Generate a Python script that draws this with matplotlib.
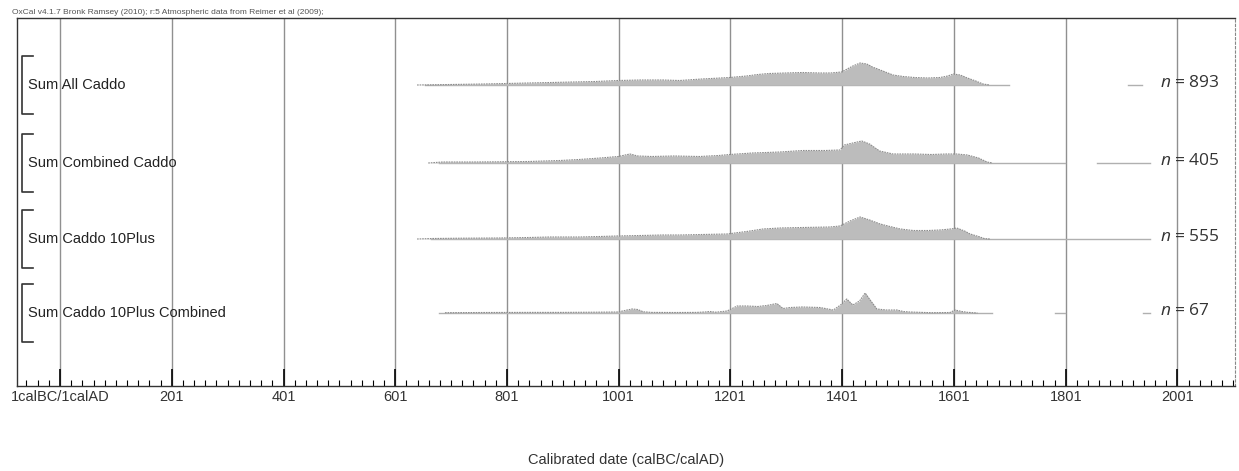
import numpy as np
import matplotlib.pyplot as plt
from matplotlib.ticker import FixedLocator

plt.rcParams['font.family'] = ['Liberation Sans', 'DejaVu Sans']
plt.rcParams['mathtext.fontset'] = 'custom'
plt.rcParams['mathtext.it'] = 'Open Sans:italic'
plt.rcParams['mathtext.rm'] = 'Open Sans'

# summed probability curves (year calAD, relative height)
names = ["Sum All Caddo", "Sum Combined Caddo", "Sum Caddo 10Plus", "Sum Caddo 10Plus Combined"]
counts = [893, 405, 555, 67]

all_yr = [640, 700, 760, 800, 840, 880, 920, 960, 1000, 1040, 1080, 1110, 1150, 1200, 1230, 1250,
          1270, 1300, 1330, 1360, 1380, 1400, 1410, 1420, 1433, 1445, 1455, 1469, 1492, 1510, 1530,
          1555, 1576, 1590, 1600, 1612, 1625, 1640, 1653, 1665]
all_h = [0, 0.5, 1, 1.5, 2, 2.5, 3, 3.5, 4.5, 5, 5, 4.5, 6, 7.5, 9, 10.5,
         11.5, 12, 12.5, 12, 12, 13, 16, 19, 22, 21, 18, 15, 10, 8.5, 7.5,
         7, 7.5, 9, 11, 10, 7, 4, 1, 0]

comb_yr = [660, 686, 740, 788, 840, 896, 930, 968, 1000, 1021, 1035, 1060, 1100, 1146, 1180, 1200,
           1240, 1290, 1330, 1370, 1397, 1405, 1420, 1436, 1450, 1460, 1468, 1492, 1530, 1560, 1588,
           1606, 1625, 1645, 1660, 1670]
comb_h = [0, 1, 1, 1.2, 1.5, 2.5, 3.5, 5, 6.5, 9, 7, 6.5, 7, 6.5, 7.5, 8.5,
          10, 11, 12.5, 12.5, 13, 18, 20, 22, 19, 15, 12, 9, 9, 8.5, 9,
          9, 8, 5, 1, 0]

plus_yr = [640, 668, 720, 788, 840, 878, 930, 968, 998, 1040, 1080, 1111, 1150, 1195, 1230, 1259,
           1290, 1330, 1379, 1397, 1415, 1433, 1450, 1469, 1490, 1505, 1528, 1555, 1576, 1595, 1606,
           1620, 1630, 1645, 1655, 1665]
plus_h = [0, 0.5, 0.8, 1, 1.5, 2, 2, 2.5, 3, 3.5, 4, 4, 4.5, 5, 7.5, 10,
          11, 11.5, 12, 13, 18, 22, 19, 15, 12, 10, 8.5, 8.5, 9, 10, 11,
          8, 5, 2.5, 0.5, 0]

pcomb_yr = [690, 760, 840, 900, 960, 1000, 1012, 1025, 1035, 1045, 1060, 1100, 1140, 1155, 1164, 1175,
            1195, 1213, 1230, 1250, 1266, 1284, 1295, 1308, 1330, 1361, 1385, 1398, 1409, 1420, 1432,
            1442, 1451, 1463, 1480, 1499, 1510, 1522, 1560, 1594, 1603, 1615, 1625, 1643]
pcomb_h = [0.3, 0.5, 0.6, 0.6, 0.8, 1, 2.5, 4, 3.5, 1.2, 0.6, 0.5, 0.6, 1, 1.5, 0.8,
           2, 7, 7, 6.5, 7.5, 9.5, 4.5, 5.5, 6, 5.5, 3, 8, 14, 8, 12,
           20, 13, 4, 3, 3, 1.5, 1, 0.3, 0.5, 3, 1.5, 0.7, 0]

curves = [(all_yr, all_h), (comb_yr, comb_h), (plus_yr, plus_h), (pcomb_yr, pcomb_h)]

# faint baseline segments (start, end) per row
base_spans = [[(655, 1700), (1912, 1938)],
              [(680, 1800), (1857, 1952)],
              [(665, 1952)],
              [(680, 1669), (1782, 1800), (1940, 1952)]]

tick_years = [1, 201, 401, 601, 801, 1001, 1201, 1401, 1601, 1801, 2001]
tick_text = ["1calBC/1calAD"] + [str(t) for t in tick_years[1:]]

fig = plt.figure(figsize=(12.39, 4.71), dpi=100)
ax = fig.add_axes([17 / 1239, 85 / 471, 1218 / 1239, 368 / 471])
ax.set_xlim(-76, 2104)
ax.set_ylim(0, 368)

for t in tick_years:
    ax.axvline(t, color="#909090", lw=1.0, zorder=1)

rows_y = [301, 223, 147, 73]
for i, (yr, h) in enumerate(curves):
    y0 = rows_y[i]
    for s, e in base_spans[i]:
        ax.plot([s, e], [y0, y0], color="#b0b0b0", lw=1.0, zorder=2)
    yr = np.array(yr)
    h = np.array(h)
    ax.fill_between(yr, y0, y0 + h, color="#bcbcbc", lw=0, zorder=3)
    ax.plot(yr, y0 + h, color="#8c8c8c", lw=0.8, ls=(0, (1.5, 0.8)), zorder=4)
    # bracket and label
    ax.plot([-47, -67, -67, -47], [y0 + 29, y0 + 29, y0 - 29, y0 - 29], color="#333333", lw=1.2, zorder=5)
    ax.text(-56, y0, names[i], fontsize=10.5, va="center", ha="left", color="#222222", zorder=6)
    ax.text(1970, y0 + 2, f"$n$ = {counts[i]}", fontsize=12.5, family="Open Sans",
            va="center", ha="left", color="#333333", zorder=6)

ax.xaxis.set_major_locator(FixedLocator(tick_years))
ax.set_xticklabels(tick_text, fontsize=10.5, color="#333333")
ax.xaxis.set_minor_locator(FixedLocator(np.arange(-79, 2104, 20)))
ax.tick_params(axis="x", which="major", direction="in", length=12, width=1.2, pad=3)
ax.tick_params(axis="x", which="minor", direction="in", length=4, width=0.8)
ax.set_yticks([])

for side in ["left", "top", "bottom"]:
    ax.spines[side].set_color("#333333")
    ax.spines[side].set_linewidth(1.0)
ax.spines["right"].set_color("#888888")
ax.spines["right"].set_linestyle((0, (2, 2)))

fig.text(12 / 1239, 1 - 12 / 471,
         "OxCal v4.1.7 Bronk Ramsey (2010); r:5 Atmospheric data from Reimer et al (2009);",
         fontsize=6, color="#555555", va="center", ha="left")
fig.text(626 / 1239, 1 - 460 / 471, "Calibrated date (calBC/calAD)", fontsize=10.5,
         color="#333333", ha="center", va="center")

fig.savefig("out.png", dpi=100)
